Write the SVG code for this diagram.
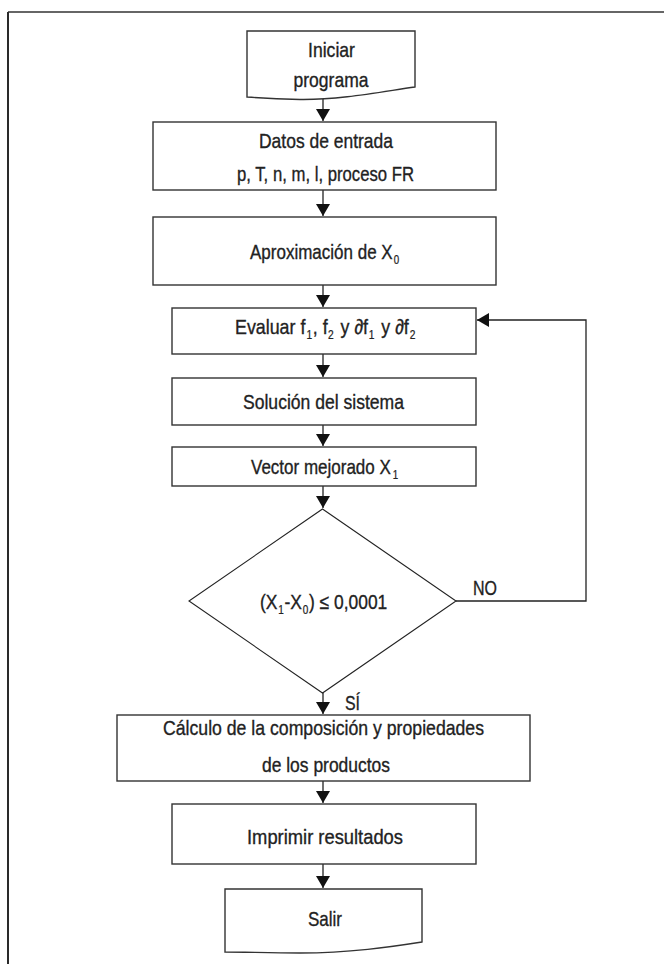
<svg xmlns="http://www.w3.org/2000/svg" width="664" height="964" viewBox="0 0 664 964">
<defs>
<style>
.frame-top{stroke:#666;stroke-width:2;fill:none}
.frame-left{stroke:#2a2a2a;stroke-width:2;fill:none}
.box{fill:#fff;stroke:#333;stroke-width:1.4}
.dia{fill:#fff;stroke:#222;stroke-width:1.1}
.conn{stroke:#222;stroke-width:1.3;fill:none}
text{font-family:"Liberation Sans","DejaVu Sans",Arial,sans-serif;font-size:21px;fill:#222;stroke:#222;stroke-width:0.35}
.c{text-anchor:middle}
.sub{font-size:12px;stroke-width:0.25}
</style>
<marker id="ah" viewBox="0 0 12 14" refX="12" refY="7" markerWidth="12" markerHeight="14" markerUnits="userSpaceOnUse" orient="auto">
<path d="M0,0 L12,7 L0,14 Z" fill="#111"/>
</marker>
</defs>
<rect width="664" height="964" fill="#fff"/>
<line class="frame-top" x1="8" y1="12" x2="664" y2="12"/>
<line class="frame-left" x1="8" y1="12" x2="8" y2="964"/>

<g id="connectors">
<line class="conn" x1="323" y1="99" x2="323" y2="121" marker-end="url(#ah)"/>
<line class="conn" x1="323" y1="190" x2="323" y2="216" marker-end="url(#ah)"/>
<line class="conn" x1="323" y1="285" x2="323" y2="307" marker-end="url(#ah)"/>
<line class="conn" x1="323" y1="354" x2="323" y2="377" marker-end="url(#ah)"/>
<line class="conn" x1="323" y1="425" x2="323" y2="446" marker-end="url(#ah)"/>
<line class="conn" x1="323" y1="486" x2="323" y2="508" marker-end="url(#ah)"/>
<line class="conn" x1="323" y1="693" x2="323" y2="714" marker-end="url(#ah)"/>
<line class="conn" x1="323" y1="781" x2="323" y2="803" marker-end="url(#ah)"/>
<line class="conn" x1="323" y1="864" x2="323" y2="888" marker-end="url(#ah)"/>
<polyline class="conn" points="456,601 586,601 586,320 477,320" marker-end="url(#ah)"/>
<text x="473" y="595" textLength="24" lengthAdjust="spacingAndGlyphs">NO</text>
<text x="345" y="710" textLength="15" lengthAdjust="spacingAndGlyphs">SÍ</text>
</g>

<g id="start">
<path class="box" d="M247,31 H415 V87 C380,92 340,100 300,99.5 C275,99 260,98 247,97 Z"/>
<text class="c" x="331.5" y="57" textLength="47" lengthAdjust="spacingAndGlyphs">Iniciar</text>
<text class="c" x="331" y="87" textLength="75" lengthAdjust="spacingAndGlyphs">programa</text>
</g>

<g id="input">
<rect class="box" x="153" y="122" width="343" height="68"/>
<text class="c" x="326" y="148" textLength="134" lengthAdjust="spacingAndGlyphs">Datos de entrada</text>
<text class="c" x="325.5" y="181" textLength="177" lengthAdjust="spacingAndGlyphs">p, T, n, m, l, proceso FR</text>
</g>

<g id="approx">
<rect class="box" x="153" y="217" width="343" height="68"/>
<g transform="translate(250,259) scale(0.81,1)">
<text x="0" y="0">Aproximación de X</text>
<text class="sub" x="177.5" y="5">0</text>
</g>
</g>

<g id="evaluate">
<rect class="box" x="172" y="308" width="304" height="46"/>
<g transform="translate(235,334) scale(0.85,1)">
<text x="0" y="0">Evaluar f</text>
<text class="sub" x="84" y="5">1</text>
<text x="91.5" y="0">, f</text>
<text class="sub" x="109.5" y="5">2</text>
<text x="124" y="0">y ∂f</text>
<text class="sub" x="157.5" y="5">1</text>
<text x="172" y="0">y ∂f</text>
<text class="sub" x="205.5" y="5">2</text>
</g>
</g>

<g id="solve">
<rect class="box" x="172" y="378" width="304" height="47"/>
<text class="c" x="323.5" y="409" textLength="161" lengthAdjust="spacingAndGlyphs">Solución del sistema</text>
</g>

<g id="vector">
<rect class="box" x="172" y="447" width="304" height="39"/>
<g transform="translate(251,474) scale(0.81,1)">
<text x="0" y="0">Vector mejorado X</text>
<text class="sub" x="175" y="5">1</text>
</g>
</g>

<g id="decision">
<polygon class="dia" points="322.5,509 456,601 322.5,693 189,601"/>
<g transform="translate(260,609) scale(0.83,1)">
<text x="0" y="0">(X</text>
<text class="sub" x="22" y="5">1</text>
<text x="29.5" y="0">-X</text>
<text class="sub" x="51.5" y="5">0</text>
<text x="59" y="0">) ≤ 0,0001</text>
</g>
</g>

<g id="compute">
<rect class="box" x="117" y="715" width="413" height="66"/>
<text class="c" x="323.5" y="735" textLength="321" lengthAdjust="spacingAndGlyphs">Cálculo de la composición y propiedades</text>
<text class="c" x="326" y="772" textLength="128" lengthAdjust="spacingAndGlyphs">de los productos</text>
</g>

<g id="print">
<rect class="box" x="172" y="804" width="304" height="60"/>
<text class="c" x="325" y="844" textLength="156" lengthAdjust="spacingAndGlyphs">Imprimir resultados</text>
</g>

<g id="exit">
<path class="box" d="M225,889 H422 V942 C390,947 350,953 300,953 C270,953 245,952 225,952 Z"/>
<text class="c" x="325" y="926" textLength="34" lengthAdjust="spacingAndGlyphs">Salir</text>
</g>
</svg>
